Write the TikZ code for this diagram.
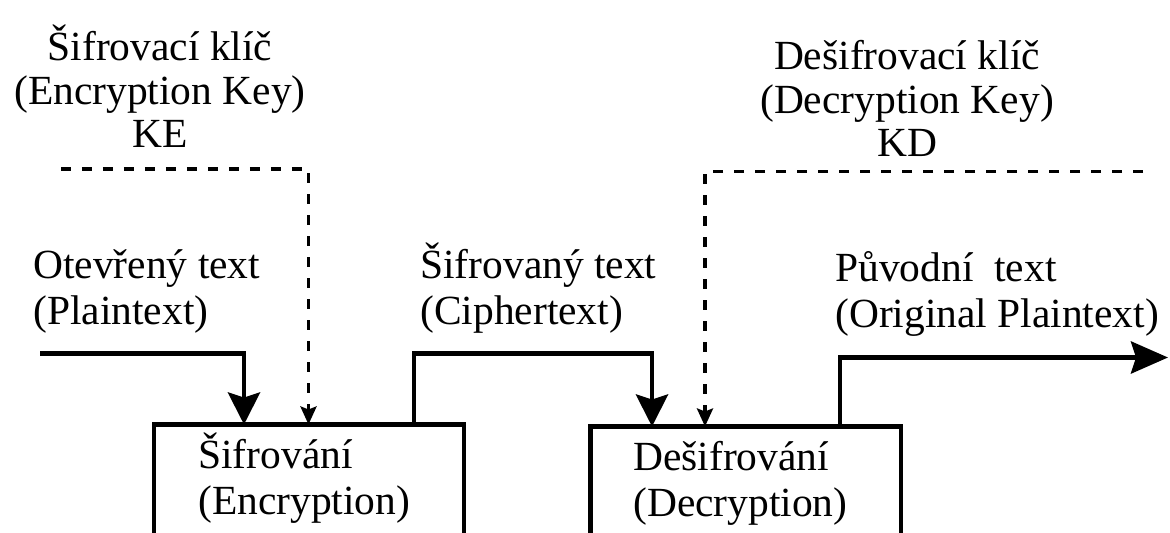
\documentclass[tikz,border=0pt]{standalone}
\usepackage{fontspec}
\setmainfont{Liberation Serif}
\usetikzlibrary{arrows.meta,calc}

\begin{document}
\begin{tikzpicture}[
  x=0.02cm,y=-0.02cm,
  blk/.style={draw,line width=2.7pt,outer sep=0pt,inner sep=0pt,minimum width=6.2cm,minimum height=3.5cm,anchor=north west},
  txt/.style={inner sep=0pt,align=left,anchor=base west,font=\fontsize{23.6}{26.7}\selectfont},
  keytxt/.style={txt,align=center,anchor=base,font=\fontsize{23.6}{25}\selectfont},
  flow/.style={line width=2.7pt,-{Stealth[length=0.64cm,width=0.64cm,inset=0.1cm]}},
  keyline/.style={line width=2pt,dash pattern=on 0.2cm off 0.22cm,-{Stealth[length=0.36cm,width=0.32cm,inset=0.06cm]}}
]
\clip (0,0) rectangle (1170,533);

% boxes
\node[blk] (enc) at (154,424.5) {};
\node[blk,minimum width=6.21cm] (dec) at (590.5,426.5) {};
\node[txt] (enctxt) at (198,515) {Šifrování\\(Encryption)};
\node[txt] (dectxt) at (633,517) {Dešifrování\\(Decryption)};

% keys
\node[keytxt] (ke) at (160,148) {Šifrovací klíč\\(Encryption Key)\\KE};
\node[keytxt] (kd) at (907,157) {Dešifrovací klíč\\(Decryption Key)\\KD};
\coordinate (kein) at (61,169);
\coordinate (kdin) at (1143,171.5);

% texts on the lines
\node[txt] (pt) at (33,325) {Otevřený text\\(Plaintext)};
\node[txt] (ct) at (420,325) {Šifrovaný text\\(Ciphertext)};
\node[txt] (ot) at (835,328) {Původní~ text\\(Original Plaintext)};
\coordinate (ptin) at (40,353.5);
\coordinate (ptout) at (1168,357.5);

\draw[flow] (ptin) -| ($(enc.north west)+(90,0)$);
\draw[keyline] (kein) -| ($(enc.north west)+(154.5,0)$);
\draw[flow] ($(enc.north west)+(260,0)$) -- ++(0,-71) -| ($(dec.north west)+(61.5,0)$);
\draw[keyline] (kdin) -| ($(dec.north west)+(114.5,0)$);
\draw[flow,-{Stealth[length=0.74cm,width=0.64cm,inset=0.1cm]}] ($(dec.north west)+(249.5,0)$) |- (ptout);
\end{tikzpicture}
\end{document}
